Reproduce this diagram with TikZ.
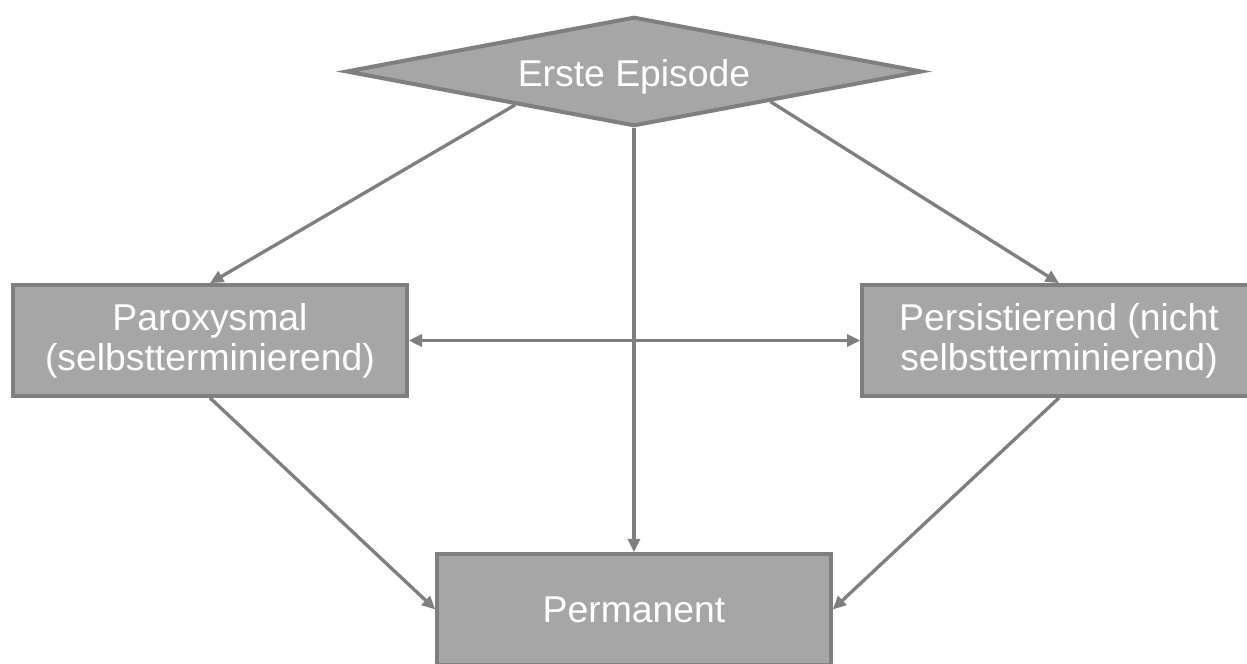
\documentclass[tikz,border=0pt]{standalone}
\usepackage{fontspec}
\setmainfont{Liberation Sans}
\usetikzlibrary{shapes.geometric,arrows.meta,calc}
\definecolor{boxfill}{HTML}{A6A6A6}
\definecolor{boxline}{HTML}{7F7F7F}
\tikzset{
  box/.style={draw=boxline, fill=boxfill, line width=3pt, text=white, align=center,
    minimum width=295pt, minimum height=83pt, inner sep=0pt,
    font=\fontsize{28}{30}\selectfont},
  dia/.style={diamond, draw=boxline, fill=boxfill, line width=3pt, text=white,
    aspect=5.4, minimum width=432pt, minimum height=82pt, inner sep=0pt,
    text height=28pt, text depth=6pt,
    font=\fontsize{28}{30}\selectfont},
  conn/.style={draw=boxline, line width=2.5pt, -{Triangle[length=10pt,width=9pt]}},
  dconn/.style={draw=boxline, line width=2.5pt, {Triangle[length=10pt,width=9pt]}-{Triangle[length=10pt,width=9pt]}},
}
\begin{document}
\begin{tikzpicture}[x=0.75pt, y=-0.75pt]
\useasboundingbox (0,0) rectangle (1247,664);
\node[dia] (ep) at (634,71.5) {Erste Episode};
\node[box] (par) at (210,340.5) {Paroxysmal\\(selbstterminierend)};
\node[box] (per) at (1059,340.5) {Persistierend (nicht\\selbstterminierend)};
\node[box] (perm) at (634,609.5) {Permanent};
\coordinate (a) at ($(ep.south)!0.41!(ep.west)$);
\coordinate (b) at ($(ep.south)!0.47!(ep.east)$);
\draw[conn] (a) -- (par.north);
\draw[conn] (b) -- (per.north);
\draw[conn] (ep.south) -- (perm.north);
\draw[dconn] (par.east) -- (per.west);
\draw[conn] (par.south) -- (perm.west);
\draw[conn] (per.south) -- (perm.east);
\end{tikzpicture}
\end{document}
